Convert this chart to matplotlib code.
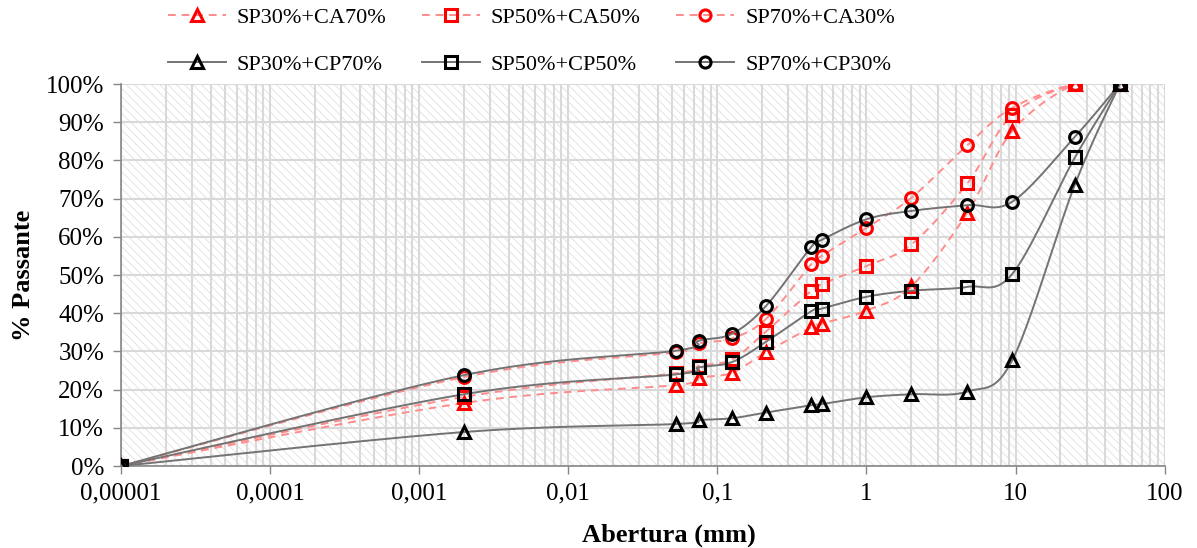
import numpy as np
import matplotlib
matplotlib.use("Agg")
import matplotlib.pyplot as plt
from matplotlib.patches import Rectangle
from matplotlib.ticker import FuncFormatter, LogLocator, NullFormatter

plt.rcParams['font.family'] = ['Liberation Serif', 'DejaVu Serif']
plt.rcParams['hatch.linewidth'] = 0.6

# abertura das peneiras (mm)
abertura = [0.00001, 0.002, 0.053, 0.075, 0.125, 0.212, 0.425, 0.5, 1.0, 2.0, 4.75, 9.5, 25, 50]

# % passante
sp30_ca70 = [0, 16.5, 21.2, 23.1, 24.4, 29.8, 36.3, 37.3, 40.7, 47.0, 66.3, 87.7, 100, 100]
sp50_ca50 = [0, 18.1, 24.3, 26.2, 27.9, 35.2, 45.8, 47.6, 52.4, 58.0, 74.0, 91.9, 100, 100]
sp70_ca30 = [0, 23.3, 29.8, 32.1, 33.4, 38.5, 52.8, 55.0, 62.4, 70.2, 84.0, 93.8, 100, 100]
sp30_cp70 = [0, 8.9, 11.0, 12.0, 12.5, 14.0, 15.9, 16.2, 18.0, 18.8, 19.5, 27.7, 73.7, 100]
sp50_cp50 = [0, 18.8, 24.0, 25.8, 27.2, 32.5, 40.5, 41.2, 44.3, 45.9, 46.9, 50.3, 80.8, 100]
sp70_cp30 = [0, 23.8, 30.2, 32.8, 34.6, 41.9, 57.3, 59.2, 64.6, 66.8, 68.3, 69.2, 86.2, 100]

xticks = [0.00001, 0.0001, 0.001, 0.01, 0.1, 1, 10, 100]


def suavizar(x, y, n=30):
    # curva suavizada tipo Excel (Catmull-Rom em log x)
    lx = np.log10(np.asarray(x, float))
    y = np.asarray(y, float)
    px = np.concatenate([[lx[0]], lx, [lx[-1]]])
    py = np.concatenate([[y[0]], y, [y[-1]]])
    t = np.linspace(0, 1, n)
    xs, ys = [], []
    for i in range(1, len(px) - 2):
        for p, out in ((px, xs), (py, ys)):
            p0, p1, p2, p3 = p[i - 1], p[i], p[i + 1], p[i + 2]
            c1 = p1 + (p2 - p0) / 6
            c2 = p2 - (p3 - p1) / 6
            out.extend((1 - t) ** 3 * p1 + 3 * (1 - t) ** 2 * t * c1 + 3 * (1 - t) * t ** 2 * c2 + t ** 3 * p2)
    return 10 ** np.array(xs), np.array(ys)


fig = plt.figure(figsize=(11.97, 5.48), dpi=100)
ax = fig.add_axes([0.101, 0.1496, 0.872, 0.697])

# fundo hachurado
ax.add_patch(Rectangle((0, 0), 1, 1, transform=ax.transAxes, facecolor='white',
                       edgecolor='#e0e0e0', hatch='\\\\\\\\', linewidth=0, zorder=0))

vermelho = '#ff0000'
linha_verm = '#ff8c8c'
preto = '#000000'
linha_preta = '#737373'

series = [
    (sp30_ca70, 'SP30%+CA70%', '^', 'red'),
    (sp30_cp70, 'SP30%+CP70%', '^', 'black'),
    (sp50_ca50, 'SP50%+CA50%', 's', 'red'),
    (sp50_cp50, 'SP50%+CP50%', 's', 'black'),
    (sp70_ca30, 'SP70%+CA30%', 'o', 'red'),
    (sp70_cp30, 'SP70%+CP30%', 'o', 'black'),
]

# vermelhas primeiro, pretas por cima
for grupo in ('red', 'black'):
    for vals, nome, mk, cor in series:
        if cor != grupo:
            continue
        sx, sy = suavizar(abertura, vals)
        if cor == 'red':
            ax.plot(sx, sy, color=linha_verm, lw=1.4, ls=(0, (4, 3)), zorder=3)
            ax.plot(abertura, vals, ls='none', marker=mk, ms=8.5, mfc='none',
                    mec=vermelho, mew=2.2, zorder=4)
        else:
            ax.plot(sx, sy, color=linha_preta, lw=1.4, zorder=5)
            ax.plot(abertura, vals, ls='none', marker=mk, ms=8.5, mfc='none',
                    mec=preto, mew=2.2, zorder=6)

handles = []
for vals, nome, mk, cor in series:
    if cor == 'red':
        h, = ax.plot([], [], color=linha_verm, lw=1.4, ls=(0, (4, 3)), marker=mk,
                     ms=8, mfc='none', mec=vermelho, mew=2.2, label=nome)
    else:
        h, = ax.plot([], [], color=linha_preta, lw=1.4, marker=mk,
                     ms=8, mfc='none', mec=preto, mew=2.2, label=nome)
    handles.append(h)

ax.set_xscale('log')
ax.set_xlim(0.00001, 100)
ax.set_ylim(0, 100)

ax.set_xticks(xticks)
ax.xaxis.set_minor_locator(LogLocator(base=10, subs=np.arange(2, 10), numticks=100))
ax.xaxis.set_minor_formatter(NullFormatter())


def fmt_x(v, pos):
    s = np.format_float_positional(v, trim='-')
    return s.replace('.', ',')


ax.xaxis.set_major_formatter(FuncFormatter(fmt_x))
ax.set_yticks(np.arange(0, 101, 10))
ax.yaxis.set_major_formatter(FuncFormatter(lambda v, p: f'{v:.0f}%'))

ax.set_axisbelow(True)
ax.grid(True, which='both', color='#d9d9d9', lw=1.5)
ax.tick_params(axis='both', which='major', labelsize=18, length=6, width=1,
               color='#868686', pad=6)
ax.tick_params(axis='x', which='minor', length=0)
for lado in ('top', 'right'):
    ax.spines[lado].set_visible(False)
for lado in ('left', 'bottom'):
    ax.spines[lado].set_color('#868686')
    ax.spines[lado].set_linewidth(1.2)

ax.set_xlabel('Abertura (mm)', fontsize=19, fontweight='bold')
ax.xaxis.set_label_coords(0.525, -0.15)
ax.set_ylabel('% Passante', fontsize=19, fontweight='bold', labelpad=8)

fig.legend(handles=handles, loc='center', bbox_to_anchor=(0.444, 0.925), ncol=3,
           frameon=False, fontsize=16, handlelength=2.6, handletextpad=0.5,
           columnspacing=1.6, labelspacing=1.2)

fig.savefig('out.png', dpi=100)
